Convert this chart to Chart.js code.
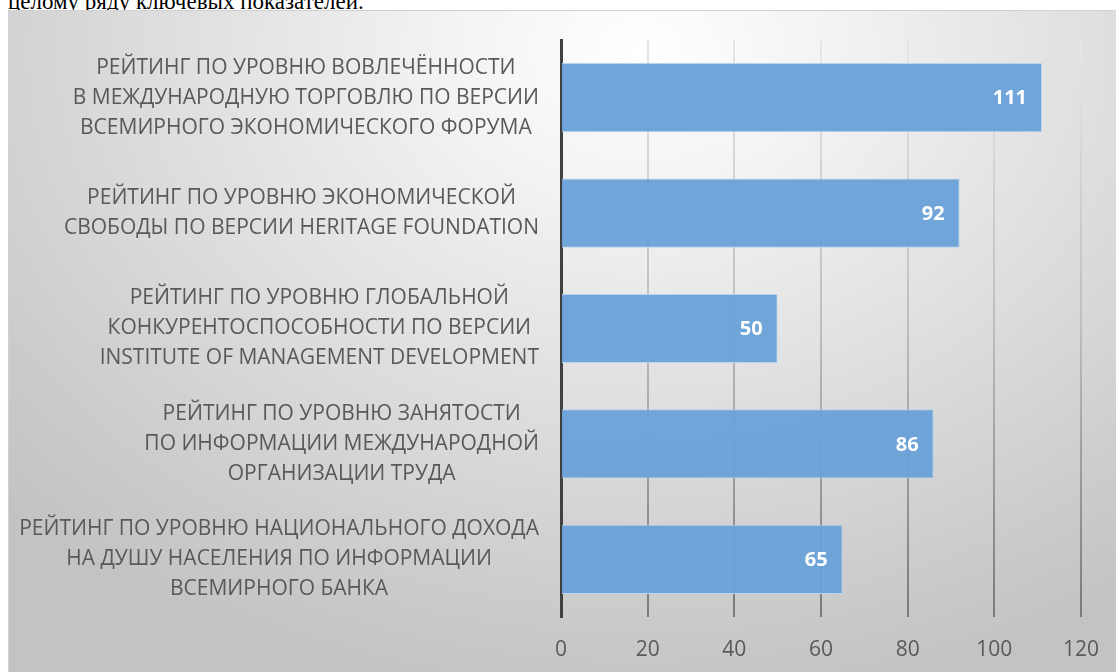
<!DOCTYPE html>
<html>
<head>
<meta charset="utf-8">
<script src="https://cdn.jsdelivr.net/npm/chart.js@4.4.1/dist/chart.umd.min.js"></script>
<style>
  html, body { margin: 0; padding: 0; background: #fff; width: 1116px; height: 672px; overflow: hidden; }
  .lead { position: absolute; left: 8px; top: -11px; font: 23px "Liberation Serif", serif; color: #000; white-space: nowrap; }
  .box {
    position: absolute; left: 8px; top: 10px; width: 1108px; height: 662px;
    box-sizing: border-box; border-top: 1px solid #d0d0d0; border-left: 1px solid #d0d0d0;
    background: radial-gradient(ellipse 78% 100% at 57% 6%, #ffffff 0%, #f3f3f3 22%, #dedede 55%, #cbcbcb 85%, #c3c3c3 100%);
  }
  canvas { display: block; }
</style>
</head>
<body>
<div class="lead">целому ряду ключевых показателей.</div>
<div class="box"><canvas id="chart" width="1107" height="661"></canvas></div>
<script>
const categories = [
    ['РЕЙТИНГ ПО УРОВНЮ ВОВЛЕЧЁННОСТИ', 'В МЕЖДУНАРОДНУЮ ТОРГОВЛЮ ПО ВЕРСИИ', 'ВСЕМИРНОГО ЭКОНОМИЧЕСКОГО ФОРУМА'],
    ['РЕЙТИНГ ПО УРОВНЮ ЭКОНОМИЧЕСКОЙ', 'СВОБОДЫ ПО ВЕРСИИ HERITAGE FOUNDATION'],
    ['РЕЙТИНГ ПО УРОВНЮ ГЛОБАЛЬНОЙ', 'КОНКУРЕНТОСПОСОБНОСТИ ПО ВЕРСИИ', 'INSTITUTE OF MANAGEMENT DEVELOPMENT'],
    ['РЕЙТИНГ ПО УРОВНЮ ЗАНЯТОСТИ', 'ПО ИНФОРМАЦИИ МЕЖДУНАРОДНОЙ', 'ОРГАНИЗАЦИИ ТРУДА'],
    ['РЕЙТИНГ ПО УРОВНЮ НАЦИОНАЛЬНОГО ДОХОДА', 'НА ДУШУ НАСЕЛЕНИЯ ПО ИНФОРМАЦИИ', 'ВСЕМИРНОГО БАНКА']
];
const values = [111, 92, 50, 86, 65];
const axisMin = 0;
const axisMax = 120;
const axisStep = 20;

const textColor = '#595959';

// category labels (centered blocks, right-aligned to the axis) and values inside the bars
const labelPlugin = {
    id: 'barLabels',
    afterDatasetsDraw(chart) {
        const ctx = chart.ctx;
        const yScale = chart.scales.y;
        const left = chart.chartArea.left;
        ctx.save();
        ctx.font = '21px "Open Sans"';
        ctx.fillStyle = textColor;
        ctx.textAlign = 'center';
        ctx.textBaseline = 'middle';
        categories.forEach((lines, i) => {
            const y = yScale.getPixelForValue(i);
            const w = Math.max(...lines.map(l => ctx.measureText(l).width));
            const cx = left - 22 - w / 2;
            lines.forEach((l, j) => {
                ctx.fillText(l, cx, y + (j - (lines.length - 1) / 2) * 30);
            });
        });

        ctx.font = 'bold 20px "Open Sans"';
        ctx.fillStyle = '#ffffff';
        ctx.textAlign = 'right';
        chart.getDatasetMeta(0).data.forEach((bar, i) => {
            ctx.fillText(String(values[i]), bar.x - 15, bar.y + 1);
        });
        ctx.restore();
    }
};

function gridGradient(context) {
    const chart = context.chart;
    const area = chart.chartArea;
    if (!area) return '#bbbbbb';
    const g = chart.ctx.createLinearGradient(0, area.top, 0, area.bottom);
    g.addColorStop(0, '#e6e6e6');
    g.addColorStop(0.5, '#bdbdbd');
    g.addColorStop(1, '#7a7a7a');
    return g;
}

const ctx = document.getElementById('chart').getContext('2d');
new Chart(ctx, {
    type: 'bar',
    data: {
        labels: categories,
        datasets: [
            {
                data: values,
                backgroundColor: 'rgba(104, 161, 215, 0.95)',
                borderColor: '#b9d3ec',
                borderWidth: 1,
                borderSkipped: 'start',
                barPercentage: 0.6,
                categoryPercentage: 1
            }
        ]
    },
    options: {
        indexAxis: 'y',
        responsive: false,
        animation: false,
        layout: {
            padding: { left: 0, right: 35, top: 29, bottom: 0 }
        },
        plugins: {
            legend: { display: false },
            tooltip: { enabled: false }
        },
        scales: {
            x: {
                min: axisMin,
                max: axisMax,
                ticks: {
                    stepSize: axisStep,
                    color: textColor,
                    font: { family: 'Open Sans', size: 21 },
                    padding: 20
                },
                grid: { color: gridGradient, lineWidth: 2, drawTicks: false },
                border: { display: false },
                afterFit(scale) {
                    scale.height = 55;
                    scale.paddingLeft = 0;
                    scale.paddingRight = 0;
                }
            },
            y: {
                ticks: { display: false },
                grid: { display: false, drawTicks: false },
                border: { display: true, color: '#404040', width: 3 },
                afterFit(scale) { scale.width = 552; }
            }
        }
    },
    plugins: [labelPlugin]
});
</script>
</body>
</html>
